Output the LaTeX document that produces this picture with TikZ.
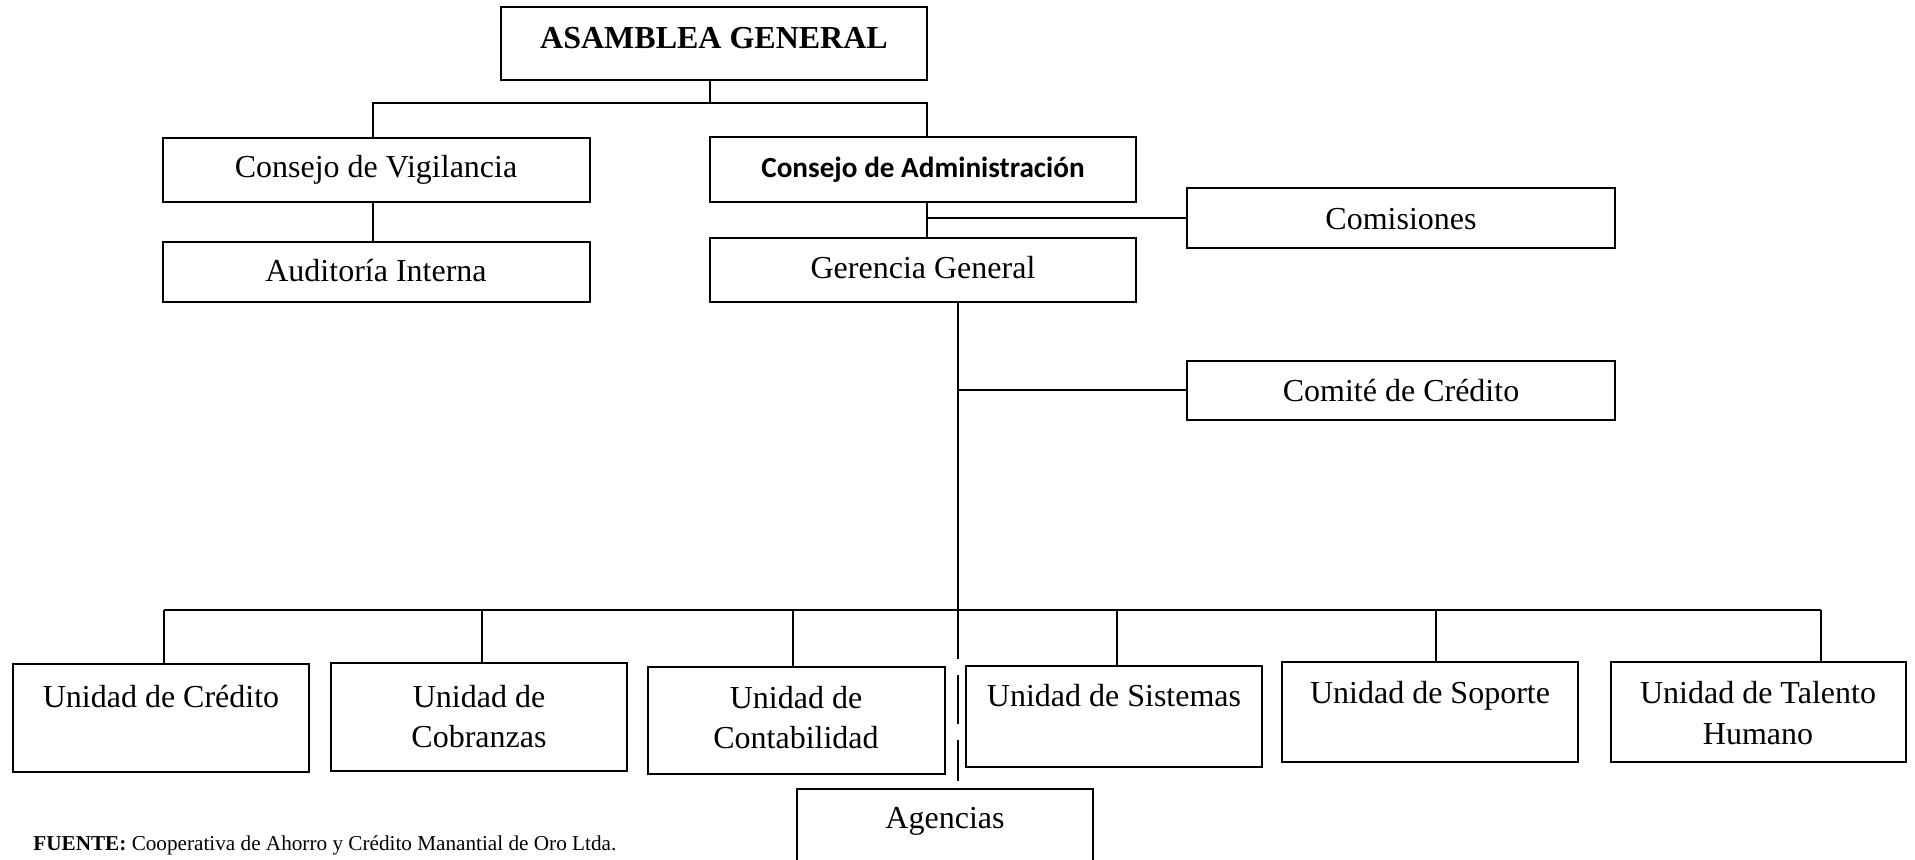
\documentclass[tikz,border=0pt]{standalone}
\usepackage{fontspec}
\setmainfont{Liberation Serif}
\newfontfamily\carlito{Carlito}

% box given by its left, top, right and bottom edges (in px units of the picture)
\newcommand\orgbox[5]{%
  \pgfmathsetmacro\bw{(#4-#2)/2}%
  \pgfmathsetmacro\bh{(#5-#3)/2}%
  \node[box, minimum width=\bw pt, minimum height=\bh pt] (#1) at ({(#2+#4)/2},{(#3+#5)/2}) {};}

\begin{document}
\begin{tikzpicture}[x=0.5pt,y=-0.5pt,
  box/.style={draw, line width=1pt, inner sep=0pt, rectangle},
  lbl/.style={inner sep=0pt, anchor=base, font=\fontsize{16}{20}\selectfont},
  link/.style={line width=1pt}]
\useasboundingbox (0,0) rectangle (1915,860);
\clip (0,0) rectangle (1915,860);

% boxes
\orgbox{asam}{501}{7}{927}{80}
\orgbox{vig}{163}{138}{590}{202}
\orgbox{adm}{710}{137}{1136}{202}
\orgbox{aud}{163}{242}{590}{302}
\orgbox{ger}{710}{238}{1136}{302}
\orgbox{com}{1187}{188}{1615}{248}
\orgbox{cc}{1187}{361}{1615}{420}
\orgbox{ucr}{13}{664}{309}{772}
\orgbox{ucb}{331}{663}{627}{771}
\orgbox{uct}{648}{667}{945}{774}
\orgbox{usi}{966}{666}{1262}{767}
\orgbox{uso}{1282}{662}{1578}{762}
\orgbox{uth}{1611}{662}{1906}{762}
\orgbox{age}{797}{789}{1093}{889}

% labels
\node[lbl] (asam-t) at (714,49) {\bfseries ASAMBLEA GENERAL};
\node[lbl] (vig-t) at (376,178) {Consejo de Vigilancia};
\node[lbl, font=\carlito\bfseries\fontsize{14.6}{18}\selectfont] (adm-t) at (923,178) {Consejo de Administración};
\node[lbl] (aud-t) at (376,282) {Auditoría Interna};
\node[lbl] (ger-t) at (923,279) {Gerencia General};
\node[lbl] (com-t) at (1401,230) {Comisiones};
\node[lbl] (cc-t) at (1401,402) {Comité de Crédito};
\node[lbl] (ucr-t) at (161,707) {Unidad de Crédito};
\node[lbl] (ucb-t1) at (479,707) {Unidad de};
\node[lbl] (ucb-t2) at (479,747) {Cobranzas};
\node[lbl] (uct-t1) at (796,708) {Unidad de};
\node[lbl] (uct-t2) at (796,748) {Contabilidad};
\node[lbl] (usi-t) at (1114,706) {Unidad de Sistemas};
\node[lbl] (uso-t) at (1430,703) {Unidad de Soporte};
\node[lbl] (uth-t1) at (1758,703) {Unidad de Talento};
\node[lbl] (uth-t2) at (1758,744) {Humano};
\node[lbl] (age-t) at (945,828) {Agencias};
\node[inner sep=0pt, anchor=base west, font=\fontsize{10.6}{13}\selectfont] (src) at (33,850)
  {\textbf{FUENTE:} Cooperativa de Ahorro y Crédito Manantial de Oro Ltda.};

% reference lines for the connectors
\coordinate (topbar) at (0,103);
\coordinate (spine) at (927,0);
\coordinate (asamdrop) at (710,0);
\coordinate (vigx) at (373,0);
\coordinate (mainx) at (958,0);
\coordinate (bus) at (0,610);

% upper connectors
\draw[link] (asam.south -| asamdrop) -- (asamdrop |- topbar);
\draw[link] (vig.north -| vigx) |- (topbar -| spine) -- (adm.north -| spine);
\draw[link] (vig.south -| vigx) -- (aud.north -| vigx);
\draw[link] (adm.south -| spine) -- (ger.north -| spine);
\draw[link] (spine |- com.west) -- (com.west);

% management line and committee
\draw[link] (ger.south -| mainx) -- (bus -| mainx);
\draw[link] (mainx |- cc.west) -- (cc.west);

% units bus
\foreach \n/\x in {ucr/164, ucb/482, uct/793, usi/1117, uso/1436, uth/1821} {
  \coordinate (d-\n) at (\x,610);
  \draw[link] (d-\n) -- (d-\n |- \n.north);
}
\draw[link] (d-ucr) -- (d-uth);

% agencies (dashed)
\draw[link, dash pattern=on 24.5pt off 8pt, shorten >=3.5pt] (bus -| mainx) -- (age.north -| mainx);
\end{tikzpicture}
\end{document}
